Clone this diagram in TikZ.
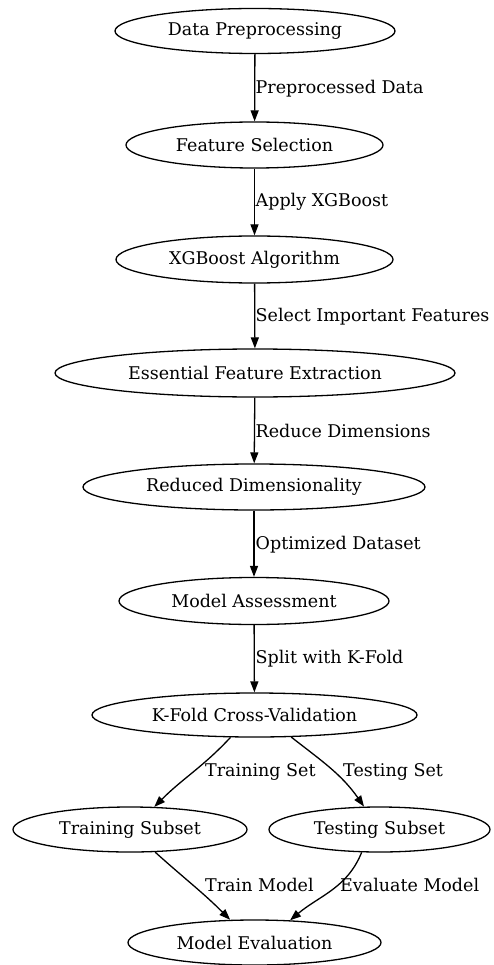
\documentclass[tikz,border=0pt]{standalone}
\usepackage{fontspec}
\setmainfont{DejaVu Serif}
\usetikzlibrary{arrows.meta,shapes.geometric}
\begin{document}
\begin{tikzpicture}[x=1pt,y=-1pt,
  font=\fontsize{17.5}{21}\selectfont,
  stage/.style={draw, ellipse, line width=1.3pt, inner sep=0pt},
  flow/.style={-{Triangle[length=11pt,width=8pt]}, line width=1.3pt},
  lab/.style={anchor=west, inner sep=0pt}]
\useasboundingbox (0,0) rectangle (494,965);

% stages
\node[stage, minimum width=280pt, minimum height=45pt] (dp)  at (255,31)    {Data Preprocessing};
\node[stage, minimum width=257pt, minimum height=46pt] (fs)  at (254.5,145) {Feature Selection};
\node[stage, minimum width=277pt, minimum height=47pt] (xg)  at (254.5,259.5) {XGBoost Algorithm};
\node[stage, minimum width=400pt, minimum height=48pt] (ef)  at (255,373)   {Essential Feature Extraction};
\node[stage, minimum width=342pt, minimum height=46pt] (rd)  at (254,487)   {Reduced Dimensionality};
\node[stage, minimum width=270pt, minimum height=47pt] (ma)  at (254,601)   {Model Assessment};
\node[stage, minimum width=325pt, minimum height=44pt] (kf)  at (254.5,715) {K-Fold Cross-Validation};
\node[stage, minimum width=234pt, minimum height=45pt] (tr)  at (130,829.5) {Training Subset};
\node[stage, minimum width=221pt, minimum height=45pt] (te)  at (379.5,829.5) {Testing Subset};
\node[stage, minimum width=253pt, minimum height=45pt] (ev)  at (254.5,942.5) {Model Evaluation};

% main chain
\draw[flow] (dp) -- (fs);
\draw[flow] (fs) -- (xg);
\draw[flow] (xg) -- (ef);
\draw[flow] (ef) -- (rd);
\draw[flow] (rd) -- (ma);
\draw[flow] (ma) -- (kf);

% split and merge
\draw[flow] (kf.-137) to[out=-133, in=45] (tr.43);
\draw[flow] (kf.-31) to[out=-38, in=125] (te.124);
\draw[flow] (tr.-42) to[out=-42, in=135] (ev.137);
\draw[flow] (te.-128) to[out=-112, in=40] (ev.32);

% edge labels
\node[lab] (l1) at (255.5,89)  {Preprocessed Data};
\node[lab] (l2) at (255.5,202) {Apply XGBoost};
\node[lab] (l3) at (255.5,317) {Select Important Features};
\node[lab] (l4) at (255.5,431) {Reduce Dimensions};
\node[lab] (l5) at (255.5,545) {Optimized Dataset};
\node[lab] (l6) at (255.5,659) {Split with K-Fold};
\node[lab] (l7) at (205,772) {Training Set};
\node[lab] (l8) at (343,772) {Testing Set};
\node[lab] (l9) at (205,885) {Train Model};
\node[lab] (l10) at (340,885) {Evaluate Model};
\end{tikzpicture}
\end{document}
